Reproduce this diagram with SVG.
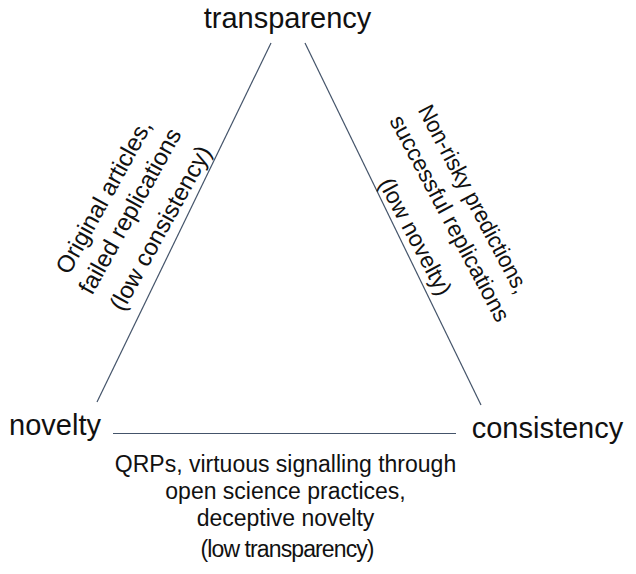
<svg xmlns="http://www.w3.org/2000/svg" width="636" height="574" viewBox="0 0 636 574">
<style>
.node{font-family:"Liberation Sans",Arial,sans-serif;font-size:29px;fill:#111}
.lbl{font-family:"Liberation Sans",Arial,sans-serif;font-size:23px;fill:#111;text-anchor:middle}
.big{font-size:24px}
.edge{stroke:#44546A;stroke-width:1.2;fill:none}
</style>
<rect width="636" height="574" fill="#fff"/>
<g id="connectors">
<line class="edge" x1="271" y1="43" x2="97" y2="402"/>
<line class="edge" x1="305" y1="43" x2="481" y2="405"/>
<line class="edge" x1="113" y1="433.5" x2="456" y2="433.5"/>
</g>
<g id="transparency"><text class="node" x="287.5" y="28" text-anchor="middle">transparency</text></g>
<g id="novelty"><text class="node" x="55" y="435" text-anchor="middle">novelty</text></g>
<g id="consistency"><text class="node" x="547.5" y="438" text-anchor="middle">consistency</text></g>
<g id="label-left" transform="translate(137 215) rotate(-61)">
<text class="lbl big" x="0" y="-30">Original articles,</text>
<text class="lbl big" x="0" y="0">failed replications</text>
<text class="lbl big" x="0" y="35">(low consistency)</text>
</g>
<g id="label-right" transform="translate(443 222) rotate(62)">
<text class="lbl" x="-6" y="-30" textLength="210" lengthAdjust="spacingAndGlyphs">Non-risky predictions,</text>
<text class="lbl" x="0" y="0">successful replications</text>
<text class="lbl" x="0" y="39">(low novelty)</text>
</g>
<g id="label-bottom">
<text class="lbl" x="285.5" y="472">QRPs, virtuous signalling through</text>
<text class="lbl" x="285.5" y="499">open science practices,</text>
<text class="lbl" x="285.5" y="526">deceptive novelty</text>
<text class="lbl" x="287.5" y="557" textLength="174" lengthAdjust="spacing">(low transparency)</text>
</g>
</svg>
